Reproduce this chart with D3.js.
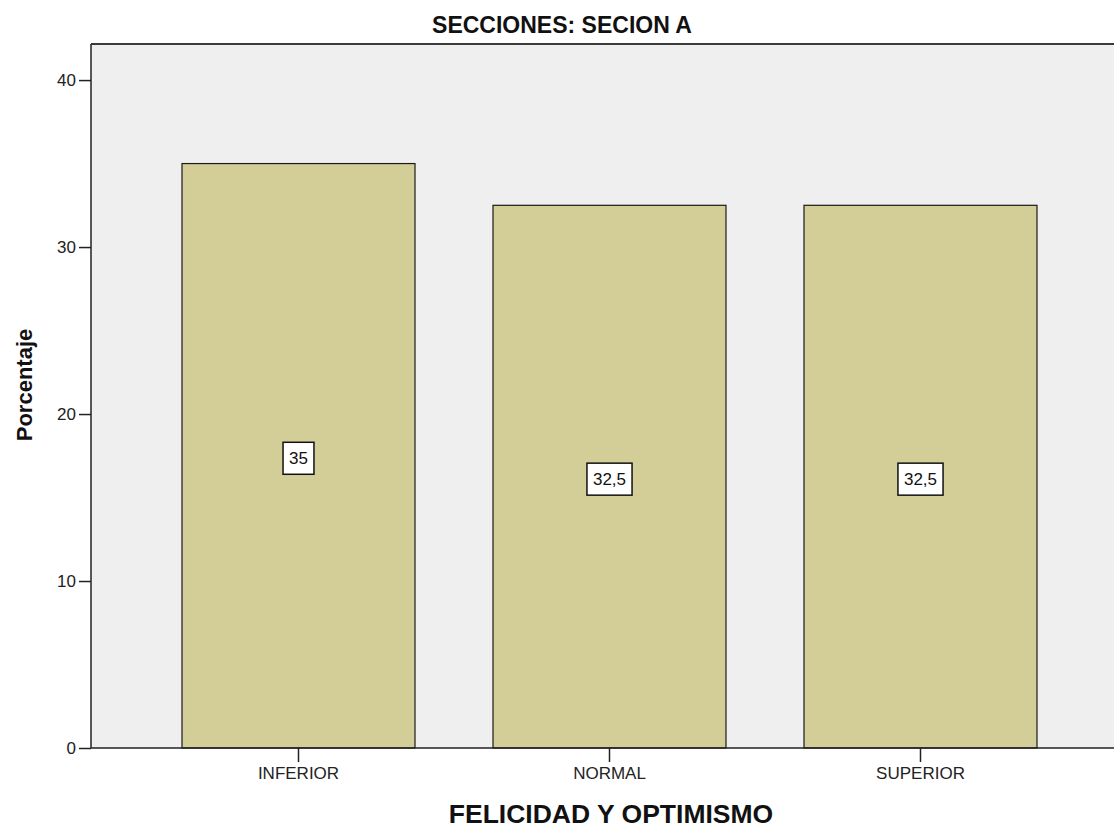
<!DOCTYPE html>
<html><head><meta charset="utf-8">
<script src="https://cdn.jsdelivr.net/npm/d3@7"></script>
<style>body{margin:0;background:#fff}svg{display:block;font-family:"Liberation Sans",Arial,sans-serif}</style>
</head><body>
<svg id="c" width="1114" height="828"></svg>
<script>
const categories = ["INFERIOR", "NORMAL", "SUPERIOR"];
const values = [35, 32.5, 32.5];
const yTicks = [0, 10, 20, 30, 40];
const title = "SECCIONES: SECION A";
const xTitle = "FELICIDAD Y OPTIMISMO";
const yTitle = "Porcentaje";

const svg = d3.select("#c");
const L = 91, R = 1114, T = 44, B = 748;
const y = d3.scaleLinear().domain([0, 42.16]).range([B, T]);
const x = d3.scaleBand().domain(categories).range([143, 1076]).paddingInner(78/311).paddingOuter(39/311);
const fmt = v => String(v).replace(".", ",");

svg.append("rect").attr("x", L).attr("y", T).attr("width", R - L).attr("height", B - T).attr("fill", "#efefef");
svg.append("line").attr("x1", L).attr("x2", R).attr("y1", T).attr("y2", T).attr("stroke", "#3a3a3a").attr("stroke-width", 2);

svg.selectAll("rect.bar").data(values).join("rect").attr("class", "bar")
  .attr("x", (d, i) => x(categories[i])).attr("width", x.bandwidth())
  .attr("y", d => y(d)).attr("height", d => B - y(d))
  .attr("fill", "#d3cd98").attr("stroke", "#1a1a1a").attr("stroke-width", 1.2);

// y axis
const ya = svg.append("g").attr("transform", `translate(${L},0)`)
  .call(d3.axisLeft(y).tickValues(yTicks).tickSize(12).tickPadding(3));
ya.select(".domain").attr("d", `M0,${T}V${B}`).attr("stroke", "#222").attr("stroke-width", 1.5);
ya.selectAll(".tick line").attr("stroke", "#222").attr("stroke-width", 1.5);
ya.selectAll("text").attr("font-size", 17).attr("fill", "#222").attr("font-family", "Liberation Sans, Arial, sans-serif");

// x axis
const xa = svg.append("g").attr("transform", `translate(0,${B})`)
  .call(d3.axisBottom(x).tickSize(14).tickPadding(5));
xa.select(".domain").attr("d", `M${L},0H${R}`).attr("stroke", "#222").attr("stroke-width", 1.5);
xa.selectAll(".tick line").attr("stroke", "#222").attr("stroke-width", 1.5);
xa.selectAll("text").attr("font-size", 17).attr("fill", "#222").attr("font-family", "Liberation Sans, Arial, sans-serif");

// value labels
const lab = svg.selectAll("g.lab").data(values).join("g").attr("class", "lab")
  .attr("transform", (d, i) => `translate(${x(categories[i]) + x.bandwidth()/2},${y(d/2) + 2.5})`);
lab.append("text").text(d => fmt(d)).attr("text-anchor", "middle").attr("dy", "0.36em")
  .attr("font-size", 17).attr("fill", "#111");
lab.each(function() {
  const g = d3.select(this), bb = g.select("text").node().getBBox();
  g.insert("rect", "text").attr("x", bb.x - 6).attr("y", -16).attr("width", bb.width + 12).attr("height", 32)
    .attr("fill", "#fff").attr("stroke", "#111").attr("stroke-width", 1.5);
});

svg.append("text").text(title).attr("x", 562).attr("y", 33).attr("text-anchor", "middle")
  .attr("font-size", 23).attr("font-weight", "bold").attr("fill", "#111");
svg.append("text").text(xTitle).attr("x", 611).attr("y", 823).attr("text-anchor", "middle")
  .attr("font-size", 26.5).attr("font-weight", "bold").attr("fill", "#111");
svg.append("text").text(yTitle).attr("transform", "translate(32,385) rotate(-90)").attr("text-anchor", "middle")
  .attr("font-size", 22).attr("font-weight", "bold").attr("fill", "#111");
</script>
</body></html>
